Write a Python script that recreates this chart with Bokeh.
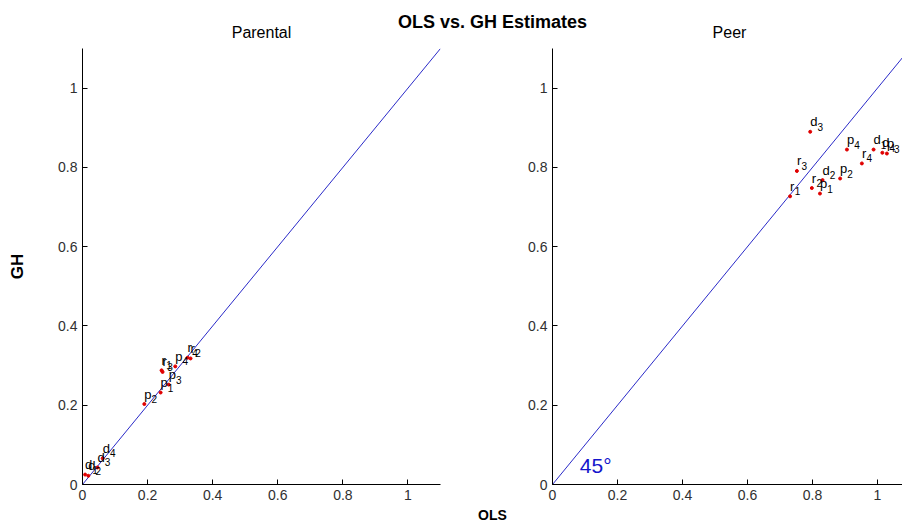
from bokeh.plotting import figure
from bokeh.layouts import column, row
from bokeh.models import Range1d, FixedTicker, Label, ColumnDataSource, CustomJSTickFormatter
from bokeh.embed import file_html
from bokeh.resources import INLINE
from bokeh.core.properties import value

# ---- data ----
labels = ["d1", "d2", "d3", "d4", "p1", "p2", "p3", "p4", "r1", "r2", "r3", "r4"]
parental_ols = [0.008, 0.018, 0.046, 0.062, 0.240, 0.190, 0.265, 0.285, 0.243, 0.332, 0.246, 0.323]
parental_gh = [0.025, 0.022, 0.043, 0.066, 0.232, 0.203, 0.252, 0.298, 0.288, 0.318, 0.284, 0.320]
peer_ols = [0.988, 0.831, 0.793, 1.015, 0.823, 0.885, 1.029, 0.906, 0.731, 0.798, 0.752, 0.952]
peer_gh = [0.845, 0.768, 0.890, 0.837, 0.734, 0.772, 0.835, 0.845, 0.727, 0.748, 0.791, 0.810]
diag = [0.0, 1.1]
ticks = [0.0, 0.2, 0.4, 0.6, 0.8, 1.0]

FONT = "Liberation Sans"
LINE_BLUE = "#2a2ac8"
letter_width = {"d": 7.2, "p": 7.2, "r": 4.6}

TOP_H = 40
PANEL_H = 466
BOTTOM_H = 25


def strip(height):
    # text strip whose ranges map one unit to one pixel
    s = figure(width=902, height=height, x_range=Range1d(0, 902), y_range=Range1d(0, height),
               min_border=0, toolbar_location=None, tools="", output_backend="svg",
               x_axis_location=None, y_axis_location=None)
    s.grid.visible = False
    s.outline_line_color = None
    return s


def make_panel(ols, gh, width, mbl, mbr, xend, ylabel=None):
    p = figure(width=width, height=PANEL_H, x_range=Range1d(0, xend), y_range=Range1d(0, 1.1),
               min_border_left=mbl, min_border_right=mbr, min_border_top=8, min_border_bottom=22,
               toolbar_location=None, tools="", output_backend="svg")
    p.grid.visible = False
    p.outline_line_color = None
    p.background_fill_color = "white"
    p.border_fill_color = "white"
    for ax in (p.xaxis[0], p.yaxis[0]):
        ax.ticker = FixedTicker(ticks=ticks, minor_ticks=[])
        ax.formatter = CustomJSTickFormatter(code="return Number(tick.toFixed(1)).toString();")
        ax.axis_line_color = "black"
        ax.major_tick_line_color = "black"
        ax.major_tick_in = 5
        ax.major_tick_out = 0
        ax.minor_tick_line_color = None
        ax.major_label_text_font = FONT
        ax.major_label_text_font_size = "14px"
        ax.major_label_text_color = "#303030"
        ax.major_label_standoff = 5
    if ylabel:
        p.yaxis.axis_label = ylabel
        p.yaxis.axis_label_text_font = FONT
        p.yaxis.axis_label_text_font_size = "17px"
        p.yaxis.axis_label_text_font_style = "bold"
        p.yaxis.axis_label_text_color = "black"
        p.yaxis.axis_label_standoff = 28

    p.line(diag, diag, line_color=LINE_BLUE, line_width=1)

    src = ColumnDataSource(dict(
        x=ols, y=gh,
        letter=[s[0] for s in labels],
        sub=[s[1:] for s in labels],
        xoff=[letter_width[s[0]] for s in labels],
    ))
    p.scatter("x", "y", source=src, size=3, color="#e00000", line_color="#e00000")
    p.text("x", "y", text="letter", source=src, text_font=value(FONT), text_font_size="13px",
           text_color="black", text_baseline="alphabetic", text_align="left", y_offset=-10)
    p.text("x", "y", text="sub", source=src, text_font=value(FONT), text_font_size="10px",
           text_color="black", text_baseline="alphabetic", text_align="left",
           x_offset="xoff", y_offset=-5)
    return p


left = make_panel(parental_ols, parental_gh, 516, 82, 76, 1.1, ylabel="GH")
right = make_panel(peer_ols, peer_gh, 386, 36, 0, 1.077)

right.add_layout(Label(x=0.084, y=0.048, text="45°", text_align="left", text_baseline="alphabetic",
                       text_font=FONT, text_font_size="21px", text_color="#1515cc"))

top = strip(TOP_H)
top.add_layout(Label(x=492, y=19, text="OLS vs. GH Estimates", text_align="center",
                     text_baseline="alphabetic", text_font=FONT, text_font_size="18px",
                     text_font_style="bold", text_color="black"))
for cx, name in ((261, "Parental"), (729, "Peer")):
    top.add_layout(Label(x=cx, y=8, text=name, text_align="center", text_baseline="alphabetic",
                         text_font=FONT, text_font_size="16px", text_color="black"))

bottom = strip(BOTTOM_H)
bottom.add_layout(Label(x=492, y=17, text="OLS", text_align="center", text_baseline="alphabetic",
                        text_font=FONT, text_font_size="14px", text_font_style="bold",
                        text_color="black"))

layout = column(top, row(left, right), bottom)
open("out.html", "w").write(file_html(layout, INLINE))
